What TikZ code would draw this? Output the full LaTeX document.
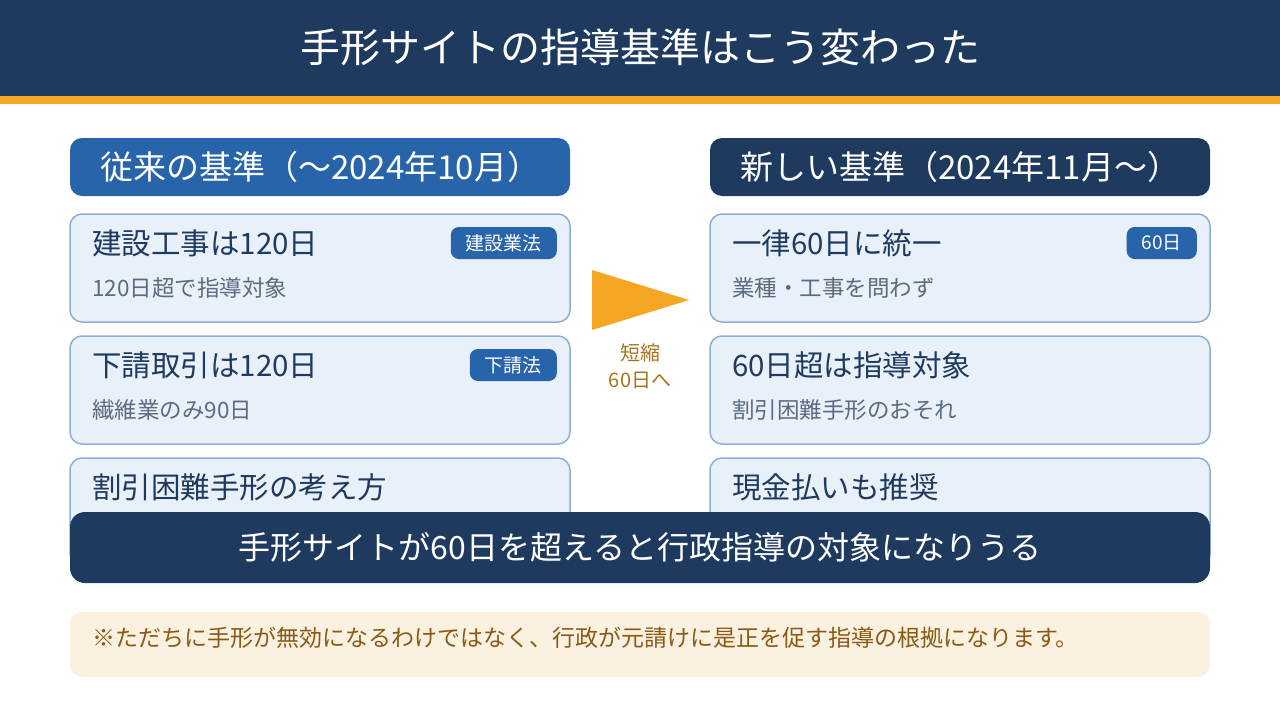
\documentclass[tikz,border=0pt]{standalone}
\usepackage{fontspec}
\setmainfont{Noto Sans CJK JP}
\usetikzlibrary{positioning}
\definecolor{navy}{HTML}{1F3A5F}
\definecolor{headblue}{HTML}{2764A9}
\definecolor{accent}{HTML}{F5A623}
\definecolor{cardfill}{HTML}{E8F0FA}
\definecolor{cardline}{HTML}{8EAED6}
\definecolor{subgray}{HTML}{5B6B80}
\definecolor{notefill}{HTML}{FAF1E0}
\definecolor{notetext}{HTML}{8A5A14}
\definecolor{shorttext}{HTML}{A8731E}

\begin{document}
\begin{tikzpicture}[x=1pt, y=-1pt,
	card/.style={draw=cardline, line width=1.5pt, fill=cardfill, rounded corners=12pt},
	head/.style={anchor=west, inner sep=0pt, text=white, font=\fontsize{33}{37}\selectfont},
	cardtitle/.style={anchor=west, inner sep=0pt, text=navy, font=\fontsize{29.5}{33}\selectfont},
	cardsub/.style={anchor=west, inner sep=0pt, text=subgray, font=\fontsize{22.5}{26}\selectfont},
	badge/.style={anchor=east, fill=headblue, text=white, rounded corners=8pt, inner xsep=15pt,
		inner ysep=0pt, minimum height=32pt, font=\fontsize{19}{22}\selectfont}]
	\useasboundingbox (0,0) rectangle (1280,720);
	% Title bar
	\fill[navy] (0,0) rectangle (1280,96);
	\fill[accent] (0,96) rectangle (1280,104);
	\node[text=white, font=\fontsize{40}{44}\selectfont] (title) at (640,47) {手形サイトの指導基準はこう変わった};
	% Column headers
	\fill[headblue, rounded corners=12pt] (70,138) rectangle (570,196);
	\node[head] (oldhead) at (100,167) {従来の基準（～2024年10月）};
	\fill[navy, rounded corners=12pt] (710,138) rectangle (1210,196);
	\node[head] (newhead) at (740,167) {新しい基準（2024年11月～）};
	% Old cards
	\draw[card] (70,214) rectangle (570,322);
	\node[cardtitle] (oldtitleA) at (92,243) {建設工事は120日};
	\node[cardsub] (oldsubA) at (92,288) {120日超で指導対象};
	\node[badge] (oldbadgeA) at (557,243) {建設業法};
	\draw[card] (70,336) rectangle (570,444);
	\node[cardtitle] (oldtitleB) at (92,365) {下請取引は120日};
	\node[cardsub] (oldsubB) at (92,410) {繊維業のみ90日};
	\node[badge] (oldbadgeB) at (557,365) {下請法};
	\draw[card] (70,458) rectangle (570,566);
	\node[cardtitle] (oldtitleC) at (92,487) {割引困難手形の考え方};
	% New cards
	\draw[card] (710,214) rectangle (1210,322);
	\node[cardtitle] (newtitleA) at (732,243) {一律60日に統一};
	\node[cardsub] (newsubA) at (732,288) {業種・工事を問わず};
	\node[badge] (newbadgeA) at (1197,243) {60日};
	\draw[card] (710,336) rectangle (1210,444);
	\node[cardtitle] (newtitleB) at (732,365) {60日超は指導対象};
	\node[cardsub] (newsubB) at (732,410) {割引困難手形のおそれ};
	\draw[card] (710,458) rectangle (1210,566);
	\node[cardtitle] (newtitleC) at (732,487) {現金払いも推奨};
	% Arrow between columns
	\fill[accent] (592,270) -- (689,300) -- (592,330) -- cycle;
	\node[text=shorttext, align=center, font=\fontsize{20}{27}\selectfont] (shorten) at (640,366) {短縮\\60日へ};
	% Key message band
	\fill[navy, rounded corners=15pt] (70,512) rectangle (1210,583);
	\node[text=white, font=\fontsize{32}{36}\selectfont] (keymsg) at (640,547) {手形サイトが60日を超えると行政指導の対象になりうる};
	% Note
	\fill[notefill, rounded corners=12pt] (70,612) rectangle (1210,677);
	\node[anchor=west, inner sep=0pt, text=notetext, font=\fontsize{23}{27}\selectfont] (note) at (92,638)
		{※ただちに手形が無効になるわけではなく、行政が元請けに是正を促す指導の根拠になります。};
\end{tikzpicture}
\end{document}
